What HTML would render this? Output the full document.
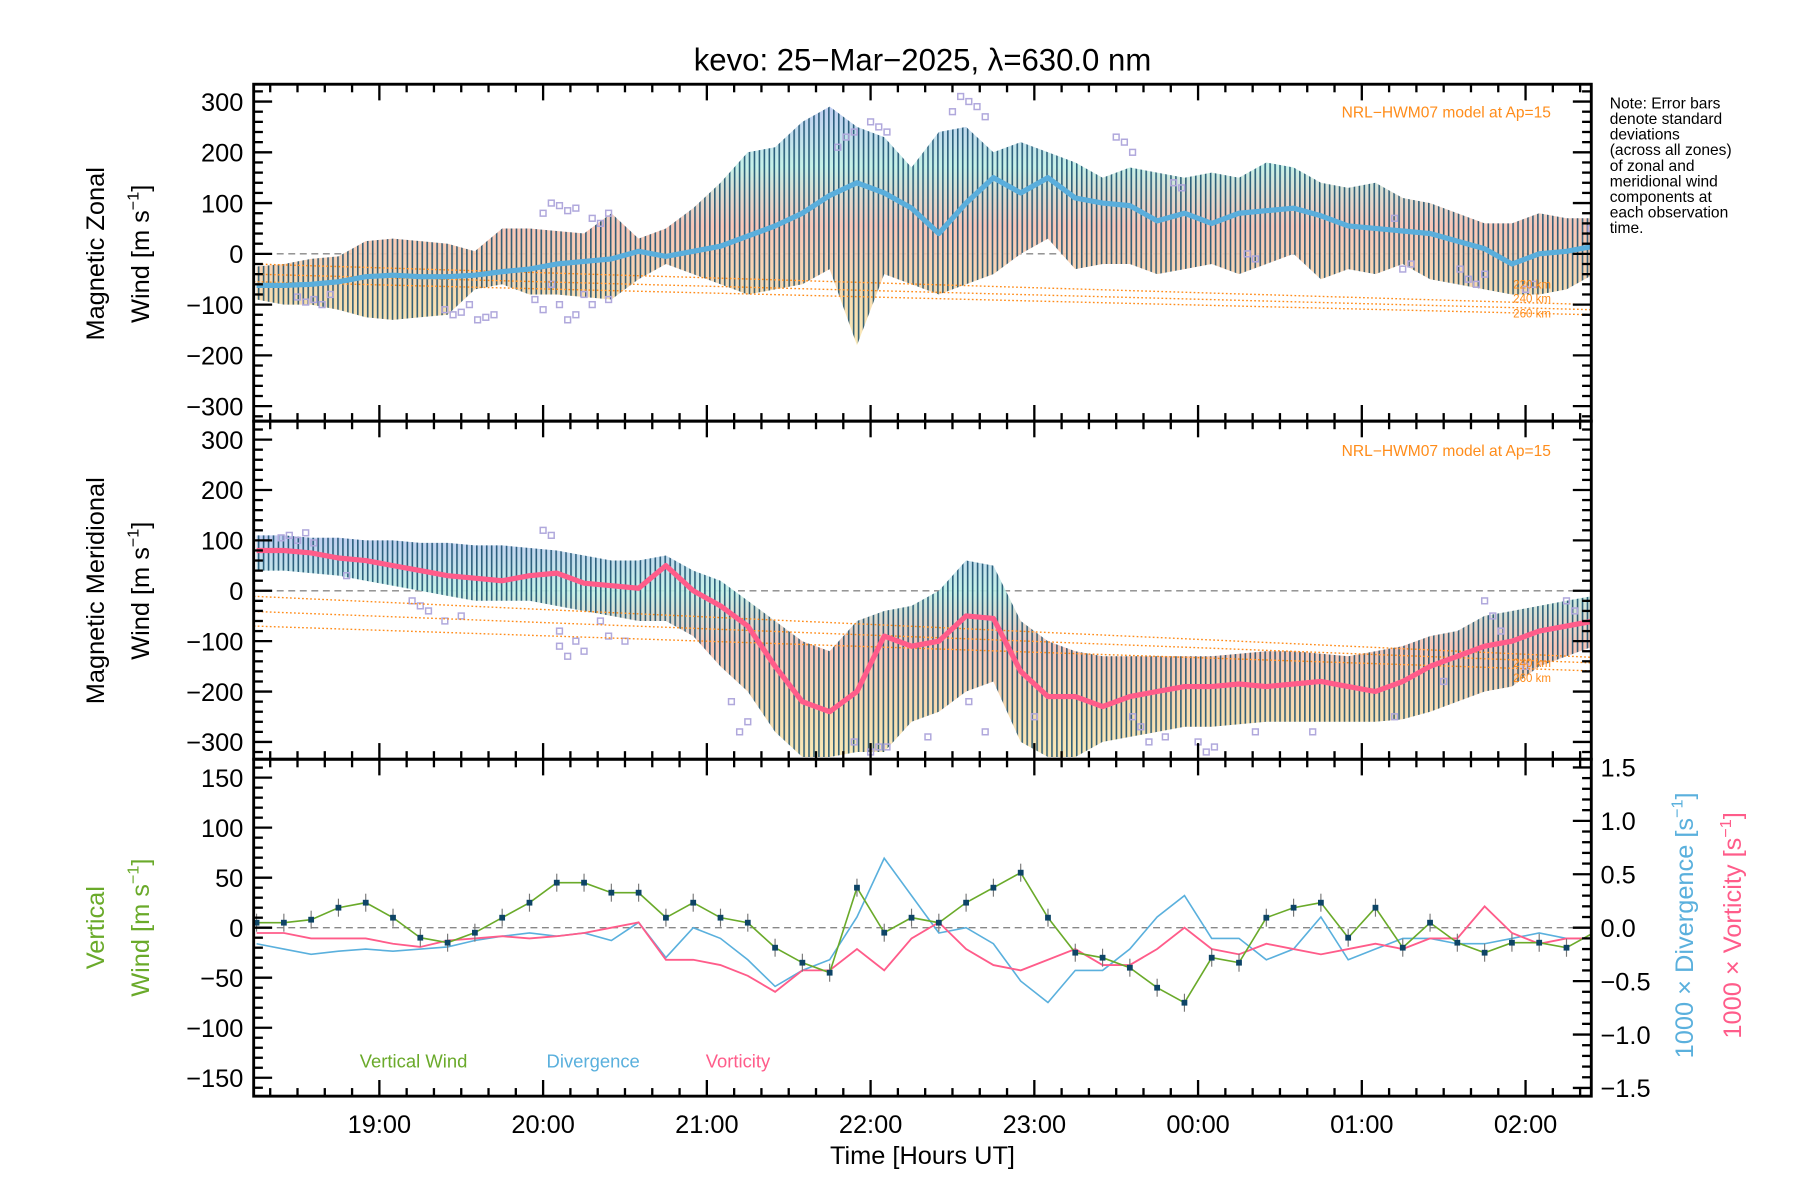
<!DOCTYPE html>
<html><head><meta charset="utf-8"><title>kevo winds</title>
<style>
html,body{margin:0;padding:0;background:#fff;}
svg{display:block;font-family:"Liberation Sans",sans-serif;}
</style></head>
<body>
<svg id="chart" width="1800" height="1200" viewBox="0 0 1561 1040" preserveAspectRatio="none" xmlns="http://www.w3.org/2000/svg">
<defs>
<pattern id="stripes" patternUnits="userSpaceOnUse" width="4.3" height="10">
<rect x="0" y="0" width="1.4" height="10" fill="#134a6a"/>
</pattern>
<linearGradient id="pastel" x1="0" y1="0" x2="0" y2="1">
<stop offset="0" stop-color="#b9c8f0"/>
<stop offset="0.25" stop-color="#bff0e6"/>
<stop offset="0.5" stop-color="#f7c0b0"/>
<stop offset="0.8" stop-color="#f6d9a8"/>
<stop offset="1" stop-color="#f8e6b0"/>
</linearGradient>
<clipPath id="c1"><rect x="220" y="73" width="1160" height="292"/></clipPath>
<clipPath id="c2"><rect x="220" y="365" width="1160" height="293"/></clipPath>
<clipPath id="c3"><rect x="220" y="658" width="1160" height="292"/></clipPath>
</defs>
<text x="800" y="61" font-size="27" text-anchor="middle">kevo: 25−Mar−2025, λ=630.0 nm</text>
<g id="p1"></g>
<g id="p2"></g>
<g id="p3"></g>
<g id="axes"></g>
<g font-size="13.5" fill="#000">
<text x="1396" y="94">Note: Error bars</text>
<text x="1396" y="107.5">denote standard</text>
<text x="1396" y="121">deviations</text>
<text x="1396" y="134.5">(across all zones)</text>
<text x="1396" y="148">of zonal and</text>
<text x="1396" y="161.5">meridional wind</text>
<text x="1396" y="175">components at</text>
<text x="1396" y="188.5">each observation</text>
<text x="1396" y="202">time.</text>
</g>
<text x="1345" y="102" font-size="13.5" fill="#ff8c1a" text-anchor="end">NRL−HWM07 model at Ap=15</text>
<text x="1345" y="395" font-size="13.5" fill="#ff8c1a" text-anchor="end">NRL−HWM07 model at Ap=15</text>
<g font-size="10" fill="#ff8c1a" text-anchor="end">
<text x="1345" y="250">220 km</text><text x="1345" y="262">240 km</text><text x="1345" y="275">260 km</text>
<text x="1345" y="578">240 km</text><text x="1345" y="591">260 km</text>
</g>
<text transform="translate(90,220) rotate(-90)" font-size="22" text-anchor="middle">Magnetic Zonal</text>
<text transform="translate(129,220) rotate(-90)" font-size="22" text-anchor="middle">Wind [m s<tspan font-size="14" dy="-9">−1</tspan><tspan dy="9">]</tspan></text>
<text transform="translate(90,512) rotate(-90)" font-size="22" text-anchor="middle">Magnetic Meridional</text>
<text transform="translate(129,512) rotate(-90)" font-size="22" text-anchor="middle">Wind [m s<tspan font-size="14" dy="-9">−1</tspan><tspan dy="9">]</tspan></text>
<text transform="translate(90,804) rotate(-90)" font-size="22" fill="#6aaa2a" text-anchor="middle">Vertical</text>
<text transform="translate(129,804) rotate(-90)" font-size="22" fill="#6aaa2a" text-anchor="middle">Wind [m s<tspan font-size="14" dy="-9">−1</tspan><tspan dy="9">]</tspan></text>
<text transform="translate(1468,802) rotate(-90)" font-size="22" fill="#5ab0dd" text-anchor="middle">1000 × Divergence [s<tspan font-size="14" dy="-9">−1</tspan><tspan dy="9">]</tspan></text>
<text transform="translate(1510,802) rotate(-90)" font-size="22" fill="#ff5c8a" text-anchor="middle">1000 × Vorticity [s<tspan font-size="14" dy="-9">−1</tspan><tspan dy="9">]</tspan></text>
<text x="312" y="925" font-size="16" fill="#6aaa2a">Vertical Wind</text>
<text x="474" y="925" font-size="16" fill="#5ab0dd">Divergence</text>
<text x="612" y="925" font-size="16" fill="#ff5c8a">Vorticity</text>
<text x="800" y="1009" font-size="22" text-anchor="middle">Time [Hours UT]</text>
</svg>
<script>
// ---- data (10-minute samples, hours UT; >24 = next day) ----
var times = [18.25,18.4167,18.5833,18.75,18.9167,19.0833,19.25,19.4167,19.5833,19.75,19.9167,20.0833,20.25,20.4167,20.5833,20.75,20.9167,21.0833,21.25,21.4167,21.5833,21.75,21.9167,22.0833,22.25,22.4167,22.5833,22.75,22.9167,23.0833,23.25,23.4167,23.5833,23.75,23.9167,24.0833,24.25,24.4167,24.5833,24.75,24.9167,25.0833,25.25,25.4167,25.5833,25.75,25.9167,26.0833,26.25,26.4167];
var zonalMean = [-62,-62,-60,-55,-45,-42,-45,-45,-42,-35,-30,-20,-15,-10,5,-5,5,15,35,55,80,115,140,120,90,40,100,150,120,150,110,100,95,65,80,60,80,85,90,75,55,50,45,40,25,10,-20,0,5,15];
var zonalHi = [-25,-20,-10,-5,25,30,25,20,5,50,50,45,40,80,30,50,90,140,200,210,260,290,250,230,170,240,250,200,220,200,180,150,170,160,150,160,150,180,170,140,130,140,110,100,80,60,60,80,70,70];
var zonalLo = [-90,-100,-100,-110,-125,-130,-125,-120,-70,-60,-80,-80,-85,-90,-50,-20,-40,-60,-80,-70,-60,-30,-180,-40,-60,-80,-60,-40,0,30,-30,-20,-20,-40,-30,-20,-40,-20,0,-50,-30,-40,-20,-50,-60,-70,-80,-80,-70,-40];
var meridMean = [80,80,75,65,60,50,40,30,25,20,30,35,15,10,5,50,0,-30,-70,-150,-220,-240,-200,-90,-110,-100,-50,-55,-160,-210,-210,-230,-210,-200,-190,-190,-185,-190,-185,-180,-190,-200,-180,-150,-130,-110,-100,-80,-70,-60];
var meridHi = [110,110,105,105,100,100,95,95,90,90,85,80,70,60,60,70,40,20,-20,-60,-100,-120,-60,-40,-30,0,60,50,-60,-100,-120,-130,-130,-130,-130,-130,-125,-120,-120,-125,-130,-120,-110,-90,-80,-50,-40,-30,-20,-10];
var meridLo = [40,40,35,30,20,10,0,-10,-20,-20,-20,-30,-40,-50,-60,-60,-90,-150,-200,-280,-330,-330,-320,-320,-260,-240,-200,-180,-300,-330,-330,-300,-290,-280,-270,-270,-265,-260,-260,-260,-260,-260,-255,-240,-220,-200,-190,-150,-130,-110];
var vertWind = [5,5,8,20,25,10,-10,-15,-5,10,25,45,45,35,35,10,25,10,5,-20,-35,-45,40,-5,10,5,25,40,55,10,-25,-30,-40,-60,-75,-30,-35,10,20,25,-10,20,-20,5,-15,-25,-15,-15,-20,-5];
var divergence = [-0.15,-0.2,-0.25,-0.22,-0.2,-0.22,-0.2,-0.18,-0.12,-0.08,-0.05,-0.08,-0.05,-0.12,0.05,-0.28,0.0,-0.1,-0.3,-0.55,-0.4,-0.3,0.1,0.65,0.3,-0.05,0.0,-0.15,-0.5,-0.7,-0.4,-0.4,-0.2,0.1,0.3,-0.1,-0.1,-0.3,-0.2,0.1,-0.3,-0.2,-0.1,-0.1,-0.15,-0.15,-0.1,-0.05,-0.1,-0.1];
var vorticity = [-0.05,-0.05,-0.1,-0.1,-0.1,-0.15,-0.18,-0.12,-0.1,-0.08,-0.1,-0.08,-0.05,0.0,0.05,-0.3,-0.3,-0.35,-0.45,-0.6,-0.4,-0.4,-0.2,-0.4,-0.1,0.05,-0.2,-0.35,-0.4,-0.3,-0.2,-0.35,-0.35,-0.2,0.0,-0.2,-0.25,-0.15,-0.2,-0.25,-0.2,-0.15,-0.2,-0.1,-0.1,0.2,-0.05,-0.15,-0.1,-0.1];
var zonalScatterT = [18.5,18.55,18.6,18.65,18.7,19.4,19.45,19.5,19.6,19.55,19.65,19.7,20.0,20.05,20.1,20.15,20.2,20.3,20.35,20.4,20.05,20.1,20.2,20.25,19.95,20.0,20.15,20.3,20.4,21.8,21.85,21.9,22.0,22.05,22.1,22.5,22.55,22.6,22.65,22.7,23.5,23.55,23.6,23.85,23.9,24.3,24.35,25.2,25.25,25.3,25.6,25.65,25.7,25.75,26.0,26.05,26.4];
var zonalScatterV = [-85,-95,-90,-100,-80,-110,-120,-115,-130,-100,-125,-120,80,100,95,85,90,70,60,80,-60,-100,-120,-80,-90,-110,-130,-100,-90,210,230,240,260,250,240,280,310,300,290,270,230,220,200,140,130,0,-10,70,-30,-20,-30,-50,-60,-40,-70,-60,50];
var meridScatterT = [18.4,18.45,18.5,18.55,18.6,18.8,19.2,19.25,19.3,19.4,19.5,20.0,20.05,20.1,20.1,20.15,20.2,20.25,20.35,20.4,20.5,21.15,21.2,21.25,21.9,22.0,22.05,22.1,22.35,22.6,22.7,23.0,23.6,23.65,23.7,23.8,24.0,24.05,24.1,24.35,24.7,25.2,25.5,25.75,25.8,25.85,26.0,26.25,26.3];
var meridScatterV = [105,110,100,115,95,30,-20,-30,-40,-60,-50,120,110,-80,-110,-130,-100,-120,-60,-90,-100,-220,-280,-260,-300,-320,-310,-310,-290,-220,-280,-250,-250,-270,-300,-290,-300,-320,-310,-280,-280,-250,-180,-20,-50,-80,-150,-20,-40];
var modelZonal = [[-20,-100],[-40,-110],[-55,-120]];
var modelMerid = [[-11,-132],[-41,-143],[-70,-159]];
var hourTicks = [19,20,21,22,23,24,25,26];
var hourLabels = ["19:00","20:00","21:00","22:00","23:00","00:00","01:00","02:00"];
var windTicks1 = [-300,-200,-100,0,100,200,300];
var vertTicks = [-150,-100,-50,0,50,100,150];
var rightTicks = [-1.5,-1.0,-0.5,0.0,0.5,1.0,1.5];

// ---- scales ----
var NS = "http://www.w3.org/2000/svg";
var L = 220, R = 1380, T0 = 18.2324, T1 = 26.4014;
function x(t){ return 329 + (t - 19) * 142; }
function y1(v){ return 220 - v * 0.44; }
function y2(v){ return 512 - v * 0.4367; }
function y3(v){ return 804 - v * 0.867; }
function y3r(d){ return 804 - d * 92.6; }
function mk(tag, attrs, parent){
  var e = document.createElementNS(NS, tag);
  for (var k in attrs) e.setAttribute(k, attrs[k]);
  parent.appendChild(e);
  return e;
}
function pathFrom(ts, vs, ys){
  var d = "";
  for (var i = 0; i < ts.length; i++) d += (i ? "L" : "M") + x(ts[i]).toFixed(1) + " " + ys(vs[i]).toFixed(1);
  return d;
}
function bandPath(ts, hi, lo, ys){
  var d = "";
  for (var i = 0; i < ts.length; i++) d += (i ? "L" : "M") + x(ts[i]).toFixed(1) + " " + ys(hi[i]).toFixed(1);
  for (var j = ts.length - 1; j >= 0; j--) d += "L" + x(ts[j]).toFixed(1) + " " + ys(lo[j]).toFixed(1);
  return d + "Z";
}

function windPanel(g, clip, ys, mean, hi, lo, sT, sV, model, meanColor, name){
  var inner = mk("g", {"clip-path": "url(#" + clip + ")"}, g);
  var zero = mk("line", {x1: L, x2: R, y1: ys(0), y2: ys(0), stroke: "#888", "stroke-dasharray": "6,4", "stroke-width": 1.2}, inner);
  
  
  var band = mk("path", {d: bandPath(times, hi, lo, ys), fill: "url(#pastel)", opacity: 0.9}, inner);
  
  
  var bars = mk("path", {d: bandPath(times, hi, lo, ys), fill: "url(#stripes)", opacity: 0.85}, inner);
  
  
  for (var i = 0; i < sT.length; i++){
    var sq = mk("rect", {x: x(sT[i]) - 2.5, y: ys(sV[i]) - 2.5, width: 5, height: 5, fill: "none", stroke: "#b0a8dc", "stroke-width": 1.3}, inner);
    
    
  }
  for (var m = 0; m < model.length; m++){
    var ml = mk("line", {x1: L, x2: R, y1: ys(model[m][0]), y2: ys(model[m][1]), stroke: "#ff8c1a", "stroke-width": 1.2, "stroke-dasharray": "1.5,2"}, inner);
    
    
  }
  var ml2 = mk("path", {d: pathFrom(times, mean, ys), fill: "none", stroke: meanColor, "stroke-width": 4.5, "stroke-linejoin": "round"}, inner);
  
  
}
windPanel(document.getElementById("p1"), "c1", y1, zonalMean, zonalHi, zonalLo, zonalScatterT, zonalScatterV, modelZonal, "#5aaedc", "zonal");
windPanel(document.getElementById("p2"), "c2", y2, meridMean, meridHi, meridLo, meridScatterT, meridScatterV, modelMerid, "#ff5c8a", "meridional");

// panel 3
(function(){
  var g = document.getElementById("p3");
  var inner = mk("g", {"clip-path": "url(#c3)"}, g);
  var z = mk("line", {x1: L, x2: R, y1: y3(0), y2: y3(0), stroke: "#888", "stroke-dasharray": "6,4", "stroke-width": 1.2}, inner);
  
  
  var dv = mk("path", {d: pathFrom(times, divergence, y3r), fill: "none", stroke: "#5ab0dd", "stroke-width": 1.4}, inner);
  
  
  var vo = mk("path", {d: pathFrom(times, vorticity, y3r), fill: "none", stroke: "#ff5c8a", "stroke-width": 1.6}, inner);
  
  
  var vw = mk("path", {d: pathFrom(times, vertWind, y3), fill: "none", stroke: "#6aaa2a", "stroke-width": 1.4}, inner);
  
  
  for (var i = 0; i < times.length; i++){
    var eb = mk("line", {x1: x(times[i]), x2: x(times[i]), y1: y3(vertWind[i] + 9), y2: y3(vertWind[i] - 9), stroke: "#777", "stroke-width": 1}, inner);
    
    
    var p = mk("rect", {x: x(times[i]) - 2.5, y: y3(vertWind[i]) - 2.5, width: 5, height: 5, fill: "#0d4466"}, inner);
    
    
  }
})();

// axes
(function(){
  var g = document.getElementById("axes");
  var panels = [[73,365,y1,windTicks1,20,"zonal"],[365,658,y2,windTicks1,20,"meridional"],[658,950,y3,vertTicks,10,"vertical"]];
  panels.forEach(function(p){
    var top = p[0], bot = p[1], ys = p[2];
    var fr = mk("rect", {x: L, y: top, width: R - L, height: bot - top, fill: "none", stroke: "#000", "stroke-width": 2.5}, g);
    
    
    for (var v = -400; v <= 400; v += p[4]){
      var yy = ys(v);
      if (yy < top + 1 || yy > bot - 1) continue;
      var major = p[3].indexOf(v) >= 0;
      var len = major ? 16 : 8;
      mk("line", {x1: L, x2: L + len, y1: yy, y2: yy, stroke: "#000", "stroke-width": 2}, g);
      if (p[5] !== "vertical") mk("line", {x1: R, x2: R - len, y1: yy, y2: yy, stroke: "#000", "stroke-width": 2}, g);
    }
    p[3].forEach(function(v){
      var t = mk("text", {x: 211, y: ys(v) + 8, "font-size": 22, "text-anchor": "end"}, g);
      t.textContent = (v < 0 ? "−" + (-v) : String(v));
      
      
    });
    for (var tm = 18.3333; tm < T1; tm += 1/6){
      var xx = x(tm);
      if (xx < L + 1 || xx > R - 1) continue;
      var hr = Math.abs(tm - Math.round(tm)) < 0.01;
      var ln = hr ? 14 : 7;
      mk("line", {x1: xx, x2: xx, y1: top, y2: top + ln, stroke: "#000", "stroke-width": 2}, g);
      mk("line", {x1: xx, x2: xx, y1: bot, y2: bot - ln, stroke: "#000", "stroke-width": 2}, g);
    }
  });
  for (var d = -1.5; d <= 1.501; d += 0.1){
    var yy = y3r(d);
    var maj = Math.abs(d * 2 - Math.round(d * 2)) < 0.01;
    mk("line", {x1: R, x2: R - (maj ? 16 : 8), y1: yy, y2: yy, stroke: "#000", "stroke-width": 2}, g);
  }
  rightTicks.forEach(function(d){
    var t = mk("text", {x: 1388, y: y3r(d) + 8, "font-size": 22}, g);
    t.textContent = (d < 0 ? "−" : "") + Math.abs(d).toFixed(1);
    
    
  });
  hourTicks.forEach(function(h, i){
    var t = mk("text", {x: x(h), y: 982, "font-size": 22, "text-anchor": "middle"}, g);
    t.textContent = hourLabels[i];
    
    
  });
})();
</script>
</body></html>
